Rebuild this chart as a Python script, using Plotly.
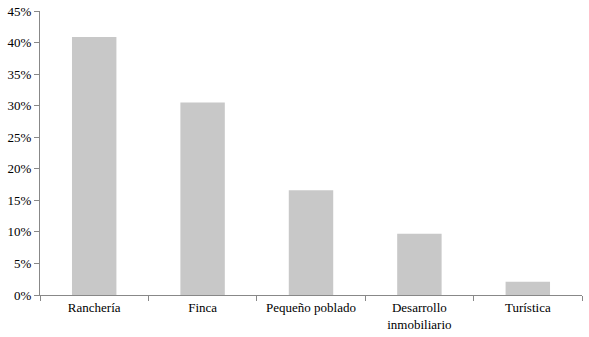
import plotly.graph_objects as go

categories = ["Ranchería", "Finca", "Pequeño poblado", "Desarrollo<br>inmobiliario", "Turística"]
values = [0.409, 0.305, 0.166, 0.097, 0.021]
y_ticks = [0, 0.05, 0.10, 0.15, 0.20, 0.25, 0.30, 0.35, 0.40, 0.45]
y_tick_labels = ["0%", "5%", "10%", "15%", "20%", "25%", "30%", "35%", "40%", "45%"]

fig = go.Figure(go.Bar(
    x=categories, y=values,
    marker=dict(color="#c8c8c8", line=dict(width=0)),
    width=0.41,
))

fig.update_layout(
    width=589, height=337,
    margin=dict(l=40, r=7, t=11, b=42, autoexpand=False),
    paper_bgcolor="white", plot_bgcolor="white",
    font=dict(family="Times New Roman, serif", size=13, color="black"),
    showlegend=False,
    bargap=0.59,
)
fig.update_xaxes(
    showline=True, linecolor="#888888", linewidth=1,
    ticks="outside", tickson="boundaries", ticklen=5, tickcolor="#888888",
    showgrid=False, tickfont=dict(size=13, family="Times New Roman, serif"), automargin=False,
)
fig.update_yaxes(
    range=[0, 0.45], tickvals=y_ticks, ticktext=y_tick_labels,
    showline=True, linecolor="#888888", linewidth=1,
    ticks="outside", ticklen=5, tickcolor="#888888",
    showgrid=False, zeroline=False, tickfont=dict(size=13, family="Times New Roman, serif"), automargin=False,
)

fig.write_html("out.html", config={"displayModeBar": False},
               post_script="document.body.style.margin='0';document.body.style.padding='0';")
